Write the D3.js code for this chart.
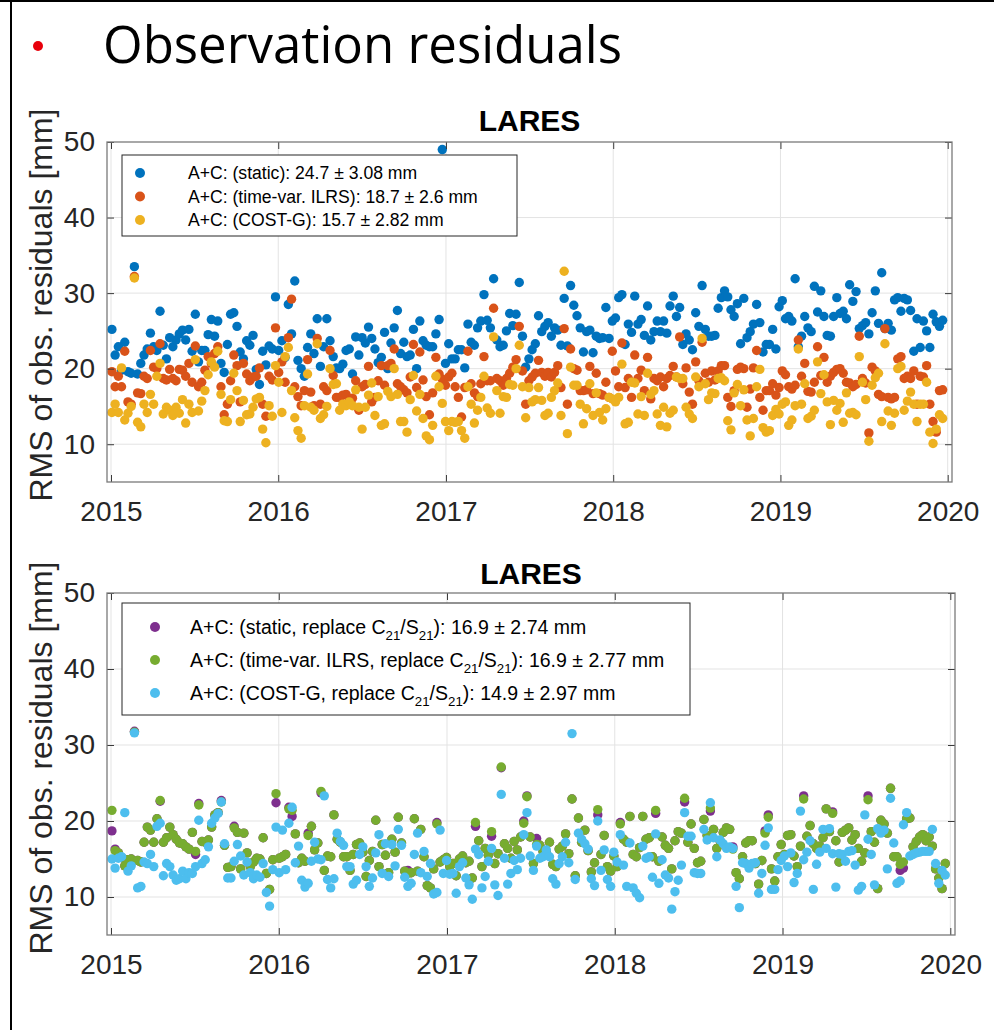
<!DOCTYPE html>
<html><head><meta charset="utf-8">
<script src="https://cdn.jsdelivr.net/npm/d3@7"></script>
<style>body{margin:0;background:#fff}svg{display:block}</style></head>
<body><svg id="c" width="994" height="1030"></svg>
<script>
// ---------- data ----------
const yearTicks = [2015, 2016, 2017, 2018, 2019, 2020];
const yTicks = [10, 20, 30, 40, 50];
const firstEpoch = "2015-01-03";   // weekly arcs
const nWeeks = 260;

// top panel
const staticVals = [
25.2,21.8,22.9,19.8,23.5,19.6,19.4,33.5,19.3,20.7,21.8,22.6,24.7,22.9,22.4,27.6,23.1,21.3,24.1,22.9,23.8,24.6,25.1,23.8,25.2,22.3,27.2,20.9,22.4,22.4,24.5,26.5,24.3,26.3,20.7,19.5,23.2,27.2,27.4,25.6,22.2,21.3,23.7,23.1,24.4,19.9,17.9,22.3,20.5,23.0,22.6,29.5,
22.4,23.7,21.5,28.5,24.6,31.6,21.1,20.0,19.0,22.8,24.6,22.0,26.6,20.3,22.9,26.6,23.7,21.6,20.1,20.0,20.6,22.4,22.6,19.3,24.2,21.8,24.1,23.4,25.5,24.0,22.6,20.8,21.5,24.8,20.0,23.4,25.4,27.7,22.0,23.5,21.6,21.8,25.2,20.0,26.3,23.7,23.1,22.9,22.9,24.6,26.5,49.0,
20.7,23.3,21.3,21.3,22.5,22.5,20.1,25.9,23.5,23.1,25.4,26.3,29.8,26.4,25.4,31.9,23.8,22.9,23.1,25.0,27.3,25.7,27.2,31.4,24.3,20.2,21.3,22.5,23.3,27.0,24.9,25.6,26.1,24.3,25.4,25.1,23.1,29.3,23.0,31.0,28.4,27.0,25.4,22.2,24.9,25.1,22.1,24.3,24.0,24.1,28.1,24.0,
26.3,26.7,29.4,29.8,23.2,25.9,24.8,29.6,25.9,26.5,24.4,28.3,23.8,24.9,26.3,24.9,26.3,24.7,28.3,29.6,26.9,28.1,23.2,24.6,23.8,22.5,27.4,25.6,31.0,25.2,24.3,24.3,24.4,28.0,29.4,30.3,29.5,27.8,26.9,28.6,23.3,29.3,24.1,24.9,25.9,28.5,26.1,22.2,23.2,23.2,25.2,22.6,
28.2,29.0,26.6,26.9,26.3,31.9,22.9,24.3,26.9,25.4,24.9,30.9,27.5,30.3,26.9,24.4,24.3,26.9,29.4,27.3,27.6,26.6,31.1,28.9,30.2,25.3,25.7,26.1,24.6,27.4,30.3,26.0,32.7,25.3,26.0,25.1,29.1,29.4,27.6,29.3,29.1,27.7,22.3,26.6,22.8,26.3,25.0,22.8,27.2,26.2,25.6,26.4];

const ilrsVals = [
19.6,17.6,19.0,17.6,22.3,15.6,15.3,32.2,16.8,16.7,19.0,18.7,22.4,20.2,20.0,23.3,18.7,18.5,19.9,18.7,18.4,19.9,19.8,19.0,20.7,18.2,23.0,17.6,18.2,19.8,21.6,20.7,22.0,22.9,17.6,13.9,15.3,18.4,21.8,20.4,15.6,20.7,19.3,18.4,18.9,19.0,20.1,15.3,13.7,19.0,18.5,25.4,
19.5,20.9,18.2,24.1,29.2,17.6,16.3,15.1,17.1,21.2,16.9,15.1,24.0,15.3,17.6,17.1,22.4,19.1,16.2,16.2,16.5,16.6,15.8,16.1,18.4,14.5,17.6,17.9,20.3,15.6,16.2,18.4,20.4,17.8,20.4,20.7,22.6,18.0,17.6,17.2,16.8,18.9,23.2,17.5,22.2,18.5,16.3,13.9,16.8,21.5,19.3,18.6,
17.8,18.9,19.4,17.6,16.2,13.6,17.5,22.3,18.0,16.8,16.3,18.0,21.6,18.4,18.4,28.0,18.7,18.4,17.8,18.7,19.4,20.2,21.2,25.6,19.7,15.3,18.4,18.9,19.4,21.1,19.5,19.0,19.5,18.9,19.5,20.4,17.5,25.3,15.3,22.6,20.0,19.8,17.1,17.1,17.2,20.3,16.7,19.4,16.7,16.5,18.2,16.2,
22.3,19.7,17.6,23.4,17.5,18.7,16.2,21.8,18.7,19.8,17.1,21.5,16.0,18.7,18.4,18.9,17.6,18.7,19.1,20.3,18.9,24.2,18.0,20.1,16.9,15.3,20.9,18.4,23.5,19.4,18.2,19.7,18.5,19.7,20.4,20.4,16.2,15.0,17.1,19.9,20.2,20.0,14.9,17.3,20.1,22.4,16.2,14.5,17.1,17.1,18.0,16.5,
17.5,19.7,19.2,17.6,17.3,17.8,23.8,19.0,20.7,17.0,16.9,18.2,22.9,19.1,21.5,18.2,19.0,19.5,19.9,20.0,19.4,18.2,18.1,17.6,17.9,24.3,18.7,18.1,11.5,20.2,19.7,16.6,16.3,25.3,16.2,16.0,16.2,21.3,21.6,18.7,19.0,18.7,19.7,15.3,19.0,18.9,20.4,15.3,13.0,11.6,17.1,17.2];

const costgVals = [
14.2,15.3,14.2,20.1,13.2,14.1,15.0,32.0,12.9,12.3,15.3,14.2,16.6,15.3,19.0,20.7,14.0,14.9,14.5,13.8,14.9,14.1,15.9,12.8,15.3,14.2,21.2,14.4,15.7,17.1,19.2,20.9,20.2,22.3,16.6,13.1,13.0,15.9,19.4,17.1,13.0,15.8,13.9,14.0,14.9,16.0,16.2,12.0,10.2,15.1,13.7,20.4,
18.2,14.2,21.6,22.8,17.1,13.5,11.8,10.8,15.1,19.3,14.9,14.5,23.3,13.4,13.9,15.0,20.0,17.9,18.0,14.5,15.3,15.1,15.6,15.1,17.2,14.9,12.0,14.9,16.5,18.1,13.8,16.3,12.5,12.7,17.0,16.3,20.0,16.6,13.0,13.0,11.6,15.9,19.1,14.4,16.6,13.4,11.1,10.6,12.5,19.0,17.6,15.4,
13.0,11.8,13.0,12.9,13.0,11.8,10.8,17.6,15.3,12.8,14.5,16.2,19.0,14.8,14.1,24.2,17.1,14.1,16.3,16.2,17.9,17.8,20.0,23.1,17.6,13.5,17.5,15.6,15.9,17.5,15.8,13.8,14.1,16.2,17.1,18.1,13.8,32.9,11.4,20.2,17.8,17.8,15.3,12.7,14.7,18.0,13.8,16.8,14.2,13.2,14.7,16.2,
16.0,15.6,16.2,20.6,12.7,12.9,18.2,18.1,14.0,16.3,13.8,19.4,16.6,17.1,14.0,12.5,14.9,12.3,14.1,14.5,18.9,18.7,18.7,14.9,14.0,13.4,18.9,17.6,24.0,18.0,15.9,16.8,16.7,18.7,18.8,18.4,13.1,11.9,16.8,17.9,15.1,17.2,13.2,11.1,13.4,17.6,19.9,12.2,11.6,11.8,13.8,14.6,
14.0,15.3,15.6,12.5,13.2,15.1,22.6,15.3,18.0,13.4,13.7,14.5,20.9,16.7,19.2,15.6,12.6,15.8,14.5,15.4,12.9,16.8,14.1,14.2,13.9,21.6,18.2,15.9,10.4,17.8,18.8,19.4,13.0,23.3,14.4,12.5,14.1,20.0,20.3,14.5,15.7,16.9,15.3,13.0,15.3,15.3,18.2,11.6,10.1,12.0,13.9,13.4];

// bottom panel (C21/S21 replaced)
const staticC21Vals = [
18.7,16.3,15.8,15.2,14.1,14.9,15.0,31.8,14.8,14.6,17.2,19.2,18.8,17.2,20.3,22.6,17.2,17.8,19.2,18.2,17.6,17.1,17.0,16.6,16.3,18.5,15.6,22.3,17.3,17.2,17.5,19.2,20.8,21.1,22.7,16.8,13.9,14.0,19.3,18.5,13.7,18.4,15.8,14.0,14.6,15.1,15.0,17.8,13.1,11.0,14.9,22.4,
15.1,15.3,15.6,21.8,20.6,18.3,14.5,15.1,14.7,18.4,19.3,16.2,17.1,23.7,13.5,15.4,15.3,20.8,17.6,17.2,15.3,15.3,13.5,15.6,16.9,17.1,15.9,12.7,14.8,16.0,20.1,14.0,16.9,15.5,13.2,17.6,15.9,20.5,17.1,13.4,13.5,13.2,20.3,13.4,18.9,15.3,11.5,11.2,13.7,19.8,14.6,14.9,
15.2,14.0,14.4,12.8,15.0,15.4,14.5,14.7,12.5,19.3,17.4,14.0,16.4,15.5,18.0,14.4,15.7,27.0,17.0,16.4,15.1,17.3,16.2,17.9,20.0,23.3,17.9,14.4,17.7,16.8,16.0,15.8,17.2,14.3,14.0,16.3,16.7,18.3,15.7,22.9,12.8,20.4,17.2,18.8,16.1,13.3,14.5,20.8,15.6,18.1,14.0,13.4,
15.4,14.0,19.8,17.6,17.2,20.6,15.6,15.3,16.5,20.6,17.6,17.8,15.3,21.0,14.7,17.9,16.8,16.4,13.7,17.4,18.6,18.4,22.5,17.2,19.6,16.4,14.5,14.7,20.2,18.1,21.3,18.9,16.4,17.4,18.5,19.1,18.9,16.6,13.2,12.4,15.3,17.1,17.4,17.4,14.4,11.7,14.8,18.7,20.8,13.7,12.1,15.3,
16.9,15.6,18.1,18.2,15.4,14.0,16.7,23.3,18.0,19.4,17.0,16.4,16.7,17.8,21.6,18.6,21.2,17.4,14.6,18.5,18.8,19.1,17.5,18.2,16.4,14.7,15.8,23.3,18.6,17.2,11.1,20.1,19.6,18.4,24.3,15.3,15.3,13.5,13.8,20.3,20.4,16.6,17.3,17.9,18.2,17.4,17.9,16.7,13.7,12.5,11.1,14.4];

const ilrsC21Vals = [
21.4,16.1,15.8,15.2,14.1,14.9,15.0,31.7,14.8,14.6,17.2,19.2,18.8,17.2,20.3,22.7,17.2,17.8,19.2,18.2,17.6,17.1,17.0,16.6,16.3,18.5,16.0,22.1,17.3,17.2,17.5,19.2,20.8,21.1,22.5,16.8,13.9,14.0,19.1,18.5,13.7,18.4,15.8,14.0,14.6,15.1,15.0,17.8,13.1,11.0,14.9,23.6,
15.1,15.3,15.6,21.6,21.4,18.3,14.5,15.1,14.7,18.1,19.3,16.2,17.1,23.9,13.5,15.4,15.3,20.8,17.6,17.2,15.3,15.3,13.5,15.6,16.9,17.1,15.9,12.7,14.8,16.0,20.1,14.0,16.9,15.5,13.2,17.6,15.9,20.5,17.1,13.4,13.1,13.2,20.3,13.4,18.9,15.3,11.5,11.2,13.7,19.6,14.6,14.9,
15.2,14.0,14.4,12.8,15.0,15.4,14.5,14.7,12.5,19.8,17.4,14.0,16.4,15.5,18.6,14.4,15.7,27.1,17.0,16.4,15.1,17.3,16.2,17.9,19.7,23.2,17.9,14.4,16.9,16.8,16.0,15.8,17.2,14.3,14.0,16.3,16.7,18.3,15.7,22.9,12.8,20.4,17.2,18.8,16.1,13.3,14.5,21.5,15.6,18.1,14.0,13.4,
15.4,14.0,19.6,17.6,17.2,20.6,15.6,15.3,16.5,20.6,17.6,17.8,15.3,21.4,14.7,17.9,16.8,16.4,13.7,17.4,18.6,18.4,23.0,17.2,19.6,16.4,14.5,14.7,20.2,18.1,21.7,18.9,16.4,17.4,18.5,19.1,18.9,16.3,13.2,12.4,15.3,17.1,17.4,17.4,14.4,11.7,14.8,18.4,20.5,13.7,12.1,15.3,
16.9,15.6,18.1,18.2,15.4,14.0,16.7,22.9,18.0,19.4,17.0,16.4,16.7,17.8,21.6,18.6,21.0,17.4,14.6,18.5,18.8,19.1,17.5,18.2,16.4,14.7,15.8,22.8,18.6,17.2,11.1,20.1,19.6,18.4,24.3,15.3,15.3,14.3,14.6,20.3,20.4,16.6,17.3,17.9,18.2,17.4,17.9,16.7,13.7,12.5,11.1,14.4];

const costgC21Vals = [
15.0,13.8,15.1,15.3,21.1,13.4,14.1,31.6,11.2,11.4,14.6,14.4,15.6,14.0,19.3,19.7,12.8,14.4,14.0,12.9,12.2,12.4,13.4,12.4,13.2,13.1,14.0,20.1,14.4,14.9,16.6,19.7,20.4,21.0,22.5,17.0,12.5,12.5,14.7,16.9,15.4,12.9,14.6,13.2,12.4,12.9,12.6,14.4,10.6,8.8,13.6,19.2,
13.2,18.8,13.6,19.7,21.8,14.5,16.7,12.2,11.3,11.8,14.7,17.2,15.0,14.9,23.3,12.3,11.2,12.4,18.4,17.3,16.8,14.0,14.0,11.7,12.2,15.6,16.6,14.0,11.4,12.5,15.8,18.2,13.1,17.0,12.7,16.9,14.1,18.9,16.8,12.6,11.4,11.8,15.6,18.4,13.2,16.0,12.7,14.4,10.4,10.6,18.8,13.1,
14.8,13.0,13.1,10.5,14.0,14.5,12.5,11.6,9.7,16.3,15.6,11.2,12.7,14.7,16.4,11.6,10.2,23.5,15.1,11.7,13.1,14.8,13.6,15.1,18.2,21.1,15.4,13.5,16.7,15.1,15.3,16.2,15.3,12.4,11.7,14.4,15.3,17.2,14.5,31.5,12.3,18.4,17.6,17.0,16.3,12.4,11.5,20.0,13.5,16.2,12.3,11.4,
15.9,14.6,18.2,14.2,11.4,17.1,11.2,10.5,9.9,16.7,15.1,15.3,12.6,18.3,11.8,14.9,12.9,12.5,8.4,10.7,12.2,14.2,21.1,18.0,18.0,13.2,13.1,13.1,18.9,17.5,22.4,17.8,15.3,17.5,17.0,16.4,16.6,16.4,11.4,8.6,14.5,14.4,13.8,14.4,14.5,10.5,13.1,16.8,19.1,11.0,11.0,13.6,
14.8,15.4,14.0,15.8,11.9,13.1,21.3,14.9,15.9,17.4,11.0,14.3,15.9,18.9,16.4,19.0,15.7,11.3,15.7,15.6,14.7,16.0,16.1,14.2,10.9,11.4,20.8,17.6,15.6,11.6,19.0,18.4,18.8,13.7,23.0,17.1,11.8,12.1,19.5,21.1,15.4,15.6,15.8,15.9,16.0,16.0,16.0,18.9,14.4,11.8,13.5,12.9];

const topLabels = [
  "A+C: (static): 24.7 \u00b1 3.08 mm",
  "A+C: (time-var. ILRS): 18.7 \u00b1 2.6 mm",
  "A+C: (COST-G): 15.7 \u00b1 2.82 mm"];
const bottomLabels = [
  "A+C: (static, replace C_21/S_21): 16.9 \u00b1 2.74 mm",
  "A+C: (time-var. ILRS, replace C_21/S_21): 16.9 \u00b1 2.77 mm",
  "A+C: (COST-G, replace C_21/S_21): 14.9 \u00b1 2.97 mm"];
const topColors = ["#0072BD", "#D95319", "#EDB120"];
const bottomColors = ["#7E2F8E", "#77AC30", "#4DBEEE"];

// ---------- drawing ----------
const svg = d3.select("#c");
const FONT = "'Liberation Sans', Arial, Helvetica, sans-serif";
const t0 = new Date(firstEpoch + "T00:00:00Z");
const weeks = d3.range(nWeeks).map(i => d3.utcDay.offset(t0, 7 * i));
const yearDates = yearTicks.map(y => new Date(Date.UTC(y, 0, 1)));

// slide frame
svg.append("line").attr("x1", 0).attr("x2", 994).attr("y1", 1).attr("y2", 1)
  .attr("stroke", "#000").attr("stroke-width", 2);
svg.append("line").attr("x1", 11).attr("x2", 11).attr("y1", 0).attr("y2", 1030)
  .attr("stroke", "#000").attr("stroke-width", 2);

// slide title
svg.append("circle").attr("cx", 38).attr("cy", 46).attr("r", 5).attr("fill", "#e8000b");
const ttl = svg.append("text").attr("x", 103).attr("y", 63)
  .attr("font-family", "'Open Sans', 'Noto Sans', sans-serif").attr("font-size", 42)
  .attr("fill", "#000").text("Observation residuals");
{
  const w = ttl.node().getComputedTextLength();
  ttl.attr("font-size", 42 * 519 / w);
}

function drawPanel(cfg, seriesList, colors, labels, leg) {
  const g = svg.append("g");
  const x = d3.scaleUtc().domain([yearDates[0], yearDates[5]]).range([cfg.x2015, cfg.x2020]);
  const y = d3.scaleLinear().domain([5, 50]).range([cfg.bottom, cfg.top]);

  // grid
  g.append("g").selectAll("line").data(yearDates).join("line")
    .attr("x1", d => x(d)).attr("x2", d => x(d)).attr("y1", cfg.top).attr("y2", cfg.bottom)
    .attr("stroke", "#e3e3e3").attr("stroke-width", 1);
  g.append("g").selectAll("line").data(yTicks.filter(v => v < 50)).join("line")
    .attr("x1", cfg.left).attr("x2", cfg.right).attr("y1", d => y(d)).attr("y2", d => y(d))
    .attr("stroke", "#e3e3e3").attr("stroke-width", 1);

  // points
  seriesList.forEach((vals, k) => {
    g.append("g").selectAll("circle").data(vals).join("circle")
      .attr("cx", (d, i) => x(weeks[i])).attr("cy", d => y(d)).attr("r", 4.7)
      .attr("fill", colors[k]);
  });

  // axes
  const axCol = "#3a3a3a";
  const bx = g.append("g").attr("transform", `translate(0,${cfg.bottom})`)
    .call(d3.axisBottom(x).tickValues(yearDates).tickSize(-7).tickPadding(19).tickFormat(d3.utcFormat("%Y")));
  const tx = g.append("g").attr("transform", `translate(0,${cfg.top})`)
    .call(d3.axisTop(x).tickValues(yearDates).tickSize(-7).tickFormat(""));
  const ly = g.append("g").attr("transform", `translate(${cfg.left},0)`)
    .call(d3.axisLeft(y).tickValues(yTicks).tickSize(-7).tickPadding(12));
  const ry = g.append("g").attr("transform", `translate(${cfg.right},0)`)
    .call(d3.axisRight(y).tickValues(yTicks).tickSize(-7).tickFormat(""));
  [bx, tx, ly, ry].forEach(a => {
    a.select(".domain").remove();
    a.attr("color", axCol).attr("font-family", FONT).attr("font-size", 28);
    a.selectAll("text").attr("fill", "#262626");
  });
  g.append("rect").attr("x", cfg.left).attr("y", cfg.top)
    .attr("width", cfg.right - cfg.left).attr("height", cfg.bottom - cfg.top)
    .attr("fill", "none").attr("stroke", "#7a7a7a").attr("stroke-width", 1.3);

  // titles
  g.append("text").attr("x", (cfg.left + cfg.right) / 2).attr("y", cfg.titleY)
    .attr("text-anchor", "middle").attr("font-family", FONT).attr("font-weight", "bold")
    .attr("font-size", 30).attr("fill", "#000").text("LARES");
  g.append("text").attr("transform", `translate(52,${cfg.labelCY}) rotate(-90)`)
    .attr("text-anchor", "middle").attr("font-family", FONT).attr("font-size", 32)
    .attr("fill", "#262626").text("RMS of obs. residuals [mm]");

  // legend
  const lg = g.append("g");
  lg.append("rect").attr("x", leg.x).attr("y", leg.y).attr("width", leg.w).attr("height", leg.h)
    .attr("fill", "#fff").attr("stroke", "#262626").attr("stroke-width", 1);
  labels.forEach((lab, k) => {
    const cy = leg.rows[k];
    lg.append("circle").attr("cx", leg.mx).attr("cy", cy).attr("r", 5).attr("fill", colors[k]);
    const t = lg.append("text").attr("x", leg.tx).attr("y", cy + leg.fs * 0.36)
      .attr("font-family", FONT).attr("font-size", leg.fs).attr("fill", "#000");
    const parts = lab.split(/_(\d+)/);
    parts.forEach((p, j) => {
      if (j % 2 === 1) {
        t.append("tspan").attr("font-size", leg.fs * 0.68).attr("dy", 6).text(p);
      } else {
        const s = t.append("tspan").text(p);
        if (j > 0) s.attr("dy", -6);
      }
    });
  });
}

drawPanel({left: 107, right: 952, top: 142, bottom: 482, x2015: 111, x2020: 947.7, titleY: 131, labelCY: 305},
  [staticVals, ilrsVals, costgVals], topColors, topLabels,
  {x: 122, y: 155, w: 395, h: 81, mx: 140, tx: 188, fs: 17.6, rows: [173, 196.5, 220]});

drawPanel({left: 107, right: 955, top: 593, bottom: 935, x2015: 111, x2020: 950.3, titleY: 584, labelCY: 758},
  [staticC21Vals, ilrsC21Vals, costgC21Vals], bottomColors, bottomLabels,
  {x: 122, y: 603, w: 568, h: 112, mx: 155, tx: 190, fs: 19.5, rows: [627, 660, 693]});
</script>
</body></html>
